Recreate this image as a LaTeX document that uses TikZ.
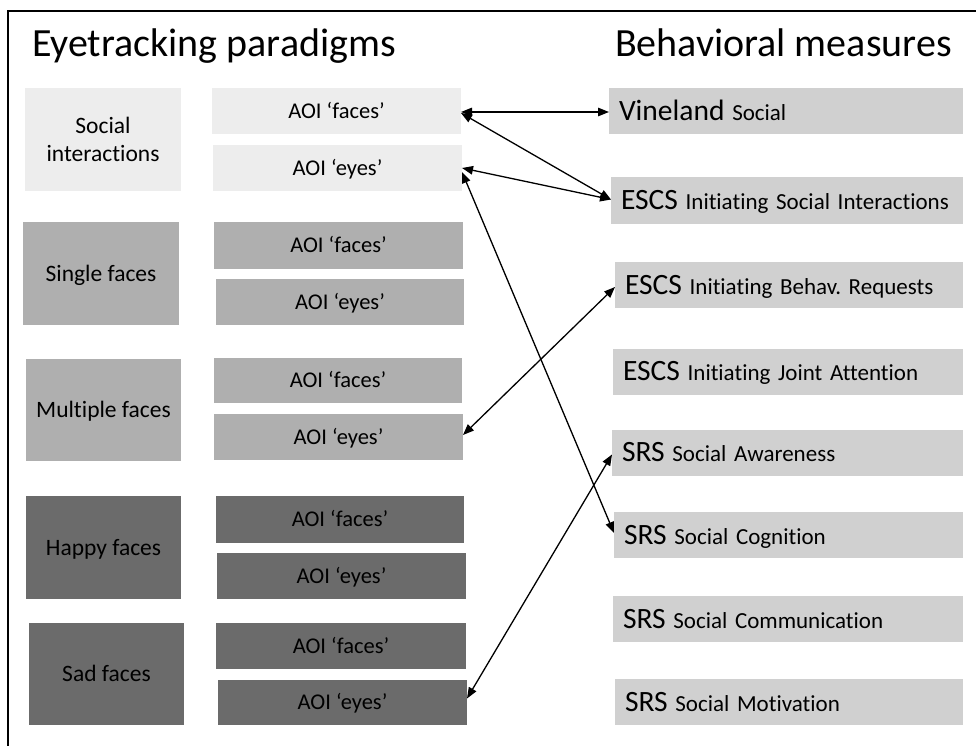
\documentclass[tikz,border=0pt]{standalone}
\usepackage{fontspec}
\setmainfont{Carlito}[Ligatures=NoCommon]
\usetikzlibrary{arrows.meta}
\definecolor{paleg}{HTML}{EDEDED}
\definecolor{midg}{HTML}{AFAFAF}
\definecolor{darkg}{HTML}{6B6B6B}
\definecolor{measg}{HTML}{D0D0D0}
\frenchspacing
\begin{document}
\begin{tikzpicture}[x=1pt,y=-1pt,
  every node/.style={outer sep=0pt},
  title/.style={anchor=base west, inner sep=0pt, font=\fontsize{40}{48}\selectfont},
  paradigmtext/.style={inner sep=0pt, align=center, font=\fontsize{23.5}{28.5}\selectfont},
  paradigm/.style={paradigmtext, text height=15pt, text depth=0pt},
  aoi/.style={inner sep=0pt, font=\fontsize{22.5}{26}\selectfont,
    text height=14.5pt, text depth=0pt},
  measure/.style={anchor=west, fill=measg, inner xsep=10pt, inner ysep=0pt,
    minimum height=46, align=left, font=\fontsize{23}{28}\selectfont,
    text height=18.5pt, text depth=0pt},
  link/.style={{Triangle[length=11pt,width=8.5pt]}-{Triangle[length=11pt,width=8.5pt]}, line width=1.3pt}
]
\useasboundingbox (0,0) rectangle (976,746);
% partial frame
\draw[line width=1.5pt] (976,11) -- (8,11) -- (8,746);

% column headings
\node[title] (th1) at (32,57) {Eyetracking paradigms};
\node[title] (th2) at (615,57) {Behavioral measures};

% paradigms
\node[paradigmtext, fill=paleg, minimum width=156, minimum height=103] (si) at (103,139.5) {Social\\interactions};
\node[paradigm, fill=midg, minimum width=156, minimum height=103] (sg) at (101,273.5) {Single faces};
\node[paradigm, fill=midg, minimum width=155, minimum height=102] (mf) at (103.5,410) {Multiple faces};
\node[paradigm, fill=darkg, minimum width=155, minimum height=103] (hf) at (103.5,547.5) {Happy faces};
\node[paradigm, fill=darkg, minimum width=155, minimum height=102] (sd) at (106.5,674) {Sad faces};

% areas of interest
\node[aoi, fill=paleg, minimum width=249, minimum height=46] (si1) at (336.5,111) {AOI ‘faces’};
\node[aoi, fill=paleg, minimum width=249, minimum height=46] (si2) at (337.5,168) {AOI ‘eyes’};
\node[aoi, fill=midg, minimum width=249, minimum height=47] (sg1) at (338.5,245.5) {AOI ‘faces’};
\node[aoi, fill=midg, minimum width=248, minimum height=46] (sg2) at (340,302) {AOI ‘eyes’};
\node[aoi, fill=midg, minimum width=248, minimum height=45] (mf1) at (338,380.5) {AOI ‘faces’};
\node[aoi, fill=midg, minimum width=249, minimum height=46] (mf2) at (338.5,437) {AOI ‘eyes’};
\node[aoi, fill=darkg, minimum width=248, minimum height=47] (hf1) at (340,519.5) {AOI ‘faces’};
\node[aoi, fill=darkg, minimum width=249, minimum height=46] (hf2) at (341.5,576) {AOI ‘eyes’};
\node[aoi, fill=darkg, minimum width=250, minimum height=46] (sd1) at (341,646) {AOI ‘faces’};
\node[aoi, fill=darkg, minimum width=249, minimum height=45] (sd2) at (342.5,702.5) {AOI ‘eyes’};

% behavioral measures
\newcommand\lead[1]{{\fontsize{29.5}{32}\selectfont #1}}
\node[measure, text width=334pt] (vin) at (609,111) {\lead{Vineland} Social};
\node[measure, text width=332pt] (isi) at (611,200.5) {\lead{ESCS} Initiating Social Interactions};
\node[measure, text width=328pt] (ibr) at (615,285) {\lead{ESCS} Initiating Behav. Requests};
\node[measure, text width=330pt] (ija) at (613,371.5) {\lead{ESCS} Initiating Joint Attention};
\node[measure, text width=331pt] (ssa) at (612,452.5) {\lead{SRS} Social Awareness};
\node[measure, text width=329pt] (ssc) at (614,535) {\lead{SRS} Social Cognition};
\node[measure, text width=330pt] (scm) at (613,619) {\lead{SRS} Social Communication};
\node[measure, text width=328pt] (smo) at (615,702) {\lead{SRS} Social Motivation};

% associations
\draw[link] ([yshift=-1pt]si1.east) -- ([yshift=-1pt]vin.west);
\draw[link] ([yshift=-2pt]si1.east) -- ([yshift=1pt]isi.west);
\draw[link] (si2.east) -- ([yshift=1pt]isi.west);
\draw[link] ([yshift=-4pt]si2.east) -- ([yshift=2pt]ssc.west);
\draw[link] ([yshift=2pt]mf2.east) -- ([yshift=-2pt]ibr.west);
\draw[link] ([yshift=4pt]sd2.east) -- ([yshift=-2pt]ssa.west);
\end{tikzpicture}
\end{document}
